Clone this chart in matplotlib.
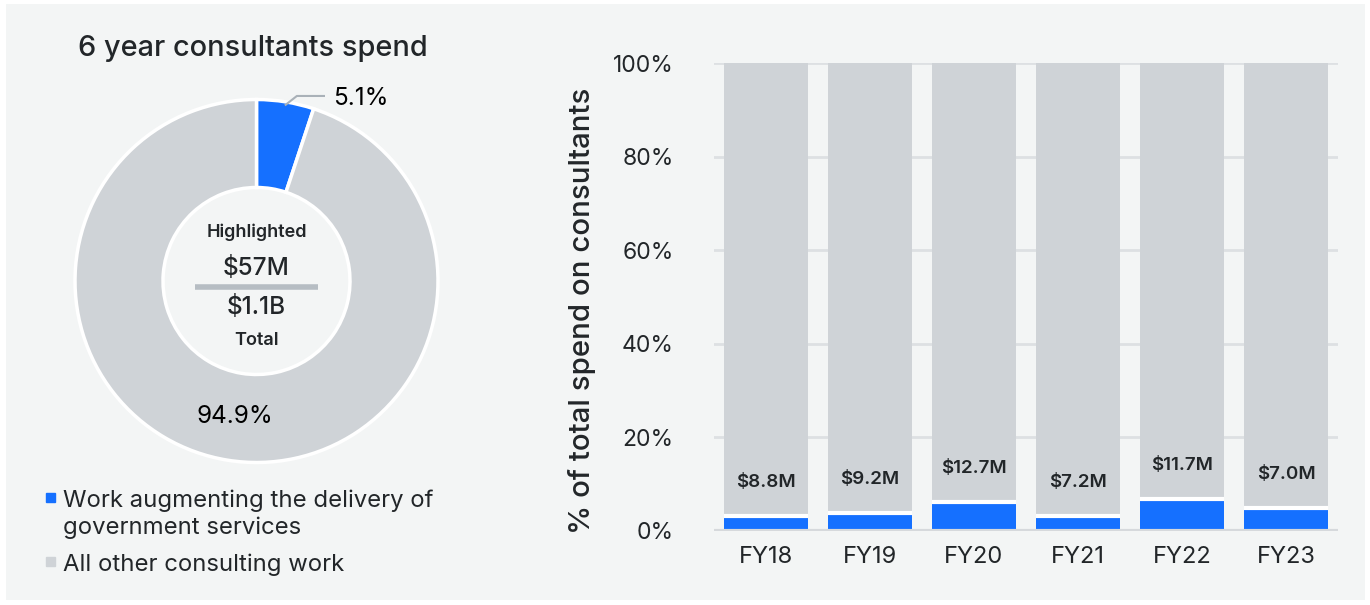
import numpy as np
import matplotlib.pyplot as plt
from matplotlib.patches import Rectangle

plt.rcParams['font.family'] = ['Inter', 'DejaVu Sans']

# donut: six year share of consulting spend
share_labels = ['Work augmenting the delivery of\ngovernment services', 'All other consulting work']
share_pct = [5.1, 94.9]
highlighted = '$57M'
total = '$1.1B'

# stacked bars by fiscal year
years = ['FY18', 'FY19', 'FY20', 'FY21', 'FY22', 'FY23']
highlight_pct = [3.1, 3.8, 6.1, 3.1, 6.8, 4.9]
highlight_amt = ['$8.8M', '$9.2M', '$12.7M', '$7.2M', '$11.7M', '$7.0M']
yticks = [0, 20, 40, 60, 80, 100]

BLUE = '#1570ff'
GREY = '#cfd3d7'
PANEL = '#f3f5f5'
TEXT = '#222629'

W, H = 1370, 605
fig = plt.figure(figsize=(W / 100, H / 100), dpi=100, facecolor='white')


def px_axes(left, top, width, height):
    return fig.add_axes([left / W, 1 - (top + height) / H, width / W, height / H])


# background panel
bg = px_axes(6, 4, 1359, 596)
bg.add_patch(Rectangle((0, 0), 1, 1, color=PANEL, transform=bg.transAxes))
bg.set_axis_off()

# ---- donut ----
R = 181.5
half = 250
ax1 = px_axes(256.5 - half, 281 - half, 2 * half, 2 * half)
inner = 93.5 / R
wedges, _ = ax1.pie(share_pct, colors=[BLUE, GREY], startangle=90, counterclock=False,
                    radius=1, wedgeprops=dict(width=1 - inner, edgecolor='white', linewidth=2.5))
ax1.set_xlim(-half / R, half / R)
ax1.set_ylim(-half / R, half / R)
ax1.set_aspect('equal')
ax1.set_axis_off()

# leader line + label for the small slice
theta = np.deg2rad(90 - share_pct[0] * 3.6 / 2)
p0 = np.array([np.cos(theta), np.sin(theta)]) * 0.98
p1 = p0 + np.array([0.066, 0.052])
p2 = np.array([p1[0] + 0.155, p1[1]])
ax1.plot([p0[0], p1[0], p2[0]], [p0[1], p1[1], p2[1]], color='#a9b1b8', lw=1.5,
         solid_capstyle='butt')
ax1.text(p2[0] + 0.045, p2[1] - 0.015, f'{share_pct[0]}%', fontsize=17.5, color='black',
         ha='left', va='center')

# label for the large slice, in the middle of the ring
theta2 = np.deg2rad(90 - (share_pct[0] + share_pct[1] / 2) * 3.6)
rm = (1 + inner) / 2
ax1.text(rm * np.cos(theta2), rm * np.sin(theta2), f'{share_pct[1]}%', fontsize=17.5,
         color='black', ha='center', va='center')

# centre summary
ax1.text(0, 0.27, 'Highlighted', fontsize=13, fontweight='semibold', color=TEXT,
         ha='center', va='center')
ax1.text(0, 0.072, highlighted, fontsize=17.5, fontweight='medium', color=TEXT,
         ha='center', va='center')
ax1.plot([-0.34, 0.34], [-0.033, -0.033], color='#b6bdc3', lw=4, solid_capstyle='butt')
ax1.text(0, -0.143, total, fontsize=17.5, fontweight='medium', color=TEXT,
         ha='center', va='center')
ax1.text(0, -0.33, 'Total', fontsize=13, fontweight='semibold', color=TEXT,
         ha='center', va='center')

fig.text(253 / W, 1 - 48 / H, '6 year consultants spend', fontsize=20.8, fontweight='medium',
         color=TEXT, ha='center', va='center')

# legend drawn by hand
leg_rows = [497, 561]
for lab, col, y in zip(share_labels, [BLUE, GREY], leg_rows):
    fig.patches.append(Rectangle((46 / W, 1 - (y + 5) / H), 9 / W, 9 / H, color=col,
                                 transform=fig.transFigure))
    fig.text(63 / W, 1 - (y - 8) / H, lab, fontsize=17.2, color=TEXT, ha='left', va='top',
             linespacing=1.3)

# ---- stacked bars ----
ax2 = px_axes(714, 63.3, 624, 467.4)
ax2.set_facecolor('none')
x = np.arange(len(years))
bw = 0.81
rest = [100 - v for v in highlight_pct]
ax2.bar(x, highlight_pct, width=bw, color=BLUE, zorder=2)
ax2.bar(x, rest, bottom=highlight_pct, width=bw, color=GREY, zorder=2)
ax2.hlines(highlight_pct, x - bw / 2, x + bw / 2, color='white', lw=3, zorder=3)
for xi, v, lab in zip(x, highlight_pct, highlight_amt):
    ax2.annotate(lab, (xi, v), xytext=(0, 24), textcoords='offset points', ha='center',
                 va='center', fontsize=13.5, fontweight='semibold', color=TEXT, zorder=4)

ax2.set_xlim(-0.5, len(years) - 0.5)
ax2.set_ylim(0, 100)
ax2.set_yticks(yticks)
ax2.set_yticklabels([f'{t}%' for t in yticks])
ax2.set_xticks(x)
ax2.set_xticklabels(years)
ax2.tick_params(axis='y', length=0, pad=29, labelsize=16.5, labelcolor=TEXT)
ax2.tick_params(axis='x', length=0, pad=11, labelsize=17, labelcolor=TEXT)
for t in yticks[1:]:
    ax2.axhline(t, color='#dde0e3', lw=2, zorder=1)
ax2.axhline(0, color='#d6d9dc', lw=3, zorder=3)
for s in ax2.spines.values():
    s.set_visible(False)

fig.text(582 / W, 1 - 311 / H, '% of total spend on consultants', rotation=90, fontsize=21.2,
         fontweight='medium', color=TEXT, ha='center', va='center')

fig.savefig('out.png', dpi=100, facecolor='white')
